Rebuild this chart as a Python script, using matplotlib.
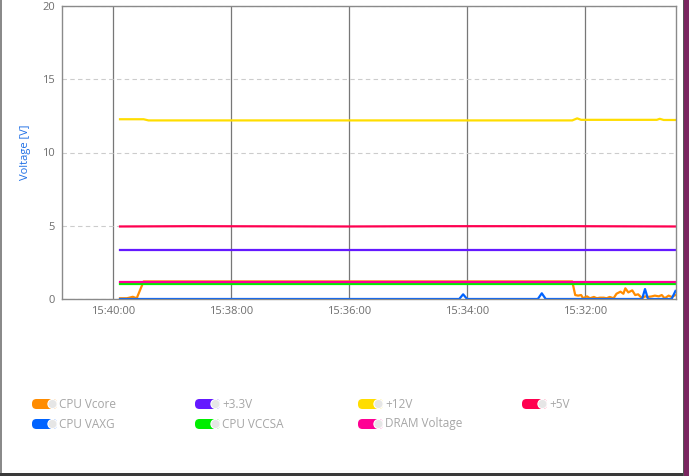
import matplotlib
matplotlib.use("Agg")
import matplotlib.pyplot as plt
import matplotlib.dates as mdates
from matplotlib.patches import FancyBboxPatch, Circle, Rectangle
import pandas as pd

plt.rcParams["font.family"] = ["Open Sans", "DejaVu Sans"]

# sensor readings: (time, volts) per series
vcore_t = ["15:39:53", "15:39:46", "15:39:40", "15:39:36", "15:39:29", "15:36:00",
           "15:32:13", "15:32:10", "15:32:07", "15:32:04", "15:32:02", "15:31:58",
           "15:31:55", "15:31:51", "15:31:48", "15:31:45", "15:31:41", "15:31:38",
           "15:31:35", "15:31:31", "15:31:28", "15:31:24", "15:31:21", "15:31:19",
           "15:31:16", "15:31:12", "15:31:09", "15:31:06", "15:31:02", "15:30:59",
           "15:30:56", "15:30:52", "15:30:49", "15:30:45", "15:30:42", "15:30:39",
           "15:30:35", "15:30:32", "15:30:28"]
vcore_v = [0.05, 0.05, 0.15, 0.05, 1.20, 1.20,
           1.20, 0.27, 0.23, 0.27, 0.05, 0.18,
           0.05, 0.14, 0.05, 0.09, 0.09, 0.05,
           0.14, 0.05, 0.36, 0.50, 0.36, 0.73,
           0.45, 0.59, 0.27, 0.32, 0.05, 0.18,
           0.14, 0.18, 0.23, 0.18, 0.27, 0.05,
           0.23, 0.14, 0.27]

vaxg_t = ["15:39:53", "15:34:08", "15:34:04", "15:34:00", "15:32:48", "15:32:44",
          "15:32:40", "15:31:02", "15:30:59", "15:30:56", "15:30:32", "15:30:28"]
vaxg_v = [0.0, 0.0, 0.32, 0.0, 0.0, 0.39,
          0.0, 0.0, 0.68, 0.0, 0.0, 0.55]

v33_t = ["15:39:53", "15:36:00", "15:30:28"]
v33_v = [3.36, 3.36, 3.36]

vccsa_t = ["15:39:53", "15:36:00", "15:30:28"]
vccsa_v = [1.05, 1.05, 1.05]

v12_t = ["15:39:53", "15:39:29", "15:39:24", "15:36:00", "15:32:13", "15:32:08",
         "15:32:04", "15:30:47", "15:30:44", "15:30:40", "15:30:28"]
v12_v = [12.27, 12.27, 12.19, 12.19, 12.19, 12.33,
         12.23, 12.23, 12.30, 12.22, 12.22]

dram_t = ["15:39:53", "15:36:00", "15:30:28"]
dram_v = [1.19, 1.19, 1.19]

v5_t = ["15:39:53", "15:38:40", "15:37:20", "15:36:00", "15:34:30", "15:32:13",
        "15:30:28"]
v5_v = [4.95, 4.97, 4.96, 4.95, 4.97, 4.97, 4.95]

series = [
    ("CPU Vcore", vcore_t, vcore_v, "#ff8c00"),
    ("CPU VAXG", vaxg_t, vaxg_v, "#0063ff"),
    ("+3.3V", v33_t, v33_v, "#6419ff"),
    ("CPU VCCSA", vccsa_t, vccsa_v, "#00ee00"),
    ("+12V", v12_t, v12_v, "#ffdd00"),
    ("DRAM Voltage", dram_t, dram_v, "#ff0094"),
    ("+5V", v5_t, v5_v, "#ff0050"),
]
legend_order = ["CPU Vcore", "+3.3V", "+12V", "+5V", "CPU VAXG", "CPU VCCSA",
                "DRAM Voltage"]
tick_times = ["15:40:00", "15:38:00", "15:36:00", "15:34:00", "15:32:00"]
y_ticks = [0, 5, 10, 15, 20]


def to_dt(times):
    return pd.to_datetime(["2024-01-01 " + t for t in times])


W, H = 689, 476
fig = plt.figure(figsize=(W / 100, H / 100), dpi=100)
fig.patch.set_facecolor("white")

# background layer in pixel coordinates
bg = fig.add_axes([0, 0, 1, 1])
bg.set_xlim(0, W)
bg.set_ylim(H, 0)
bg.axis("off")
bg.add_patch(Rectangle((0, 0), 1.5, H, color="#8a8a8a", lw=0))
bg.add_patch(Rectangle((683, 0), 6, H, color="#7a2660", lw=0))
bg.add_patch(Rectangle((682.5, 0), 1.2, H, color="#555555", lw=0))
bg.add_patch(Rectangle((0, 473), 683, 3, color="#3a3a3a", lw=0))

ax = fig.add_axes([62 / W, 1 - 299 / H, 613.5 / W, 293 / H])
for k, (name, t, v, c) in enumerate(series):
    ax.plot(to_dt(t), v, color=c, lw=1.6, solid_joinstyle="round", zorder=2 + k)

ax.set_ylim(0, 20)
ax.set_yticks(y_ticks)
ax.set_xlim(pd.Timestamp("2024-01-01 15:40:52"), pd.Timestamp("2024-01-01 15:30:28"))
ax.set_xticks(to_dt(tick_times))
ax.xaxis.set_major_formatter(mdates.DateFormatter("%H:%M:%S"))
ax.tick_params(length=0, labelsize=8, colors="#6e6e6e", pad=5)
ax.xaxis.grid(True, color="#777777", lw=0.9)
ax.yaxis.grid(True, color="#cccccc", lw=0.8, ls=(0, (4, 3)))
ax.set_axisbelow(True)
for s in ax.spines.values():
    s.set_color("#8a8a8a")
    s.set_linewidth(1.0)
    s.set_zorder(20)
ax.set_ylabel("Voltage [V]", color="#1f6fe5", fontsize=8, labelpad=8)

# toggle-style legend
colors = {name: c for name, t, v, c in series}
col_x = [32, 195, 358, 522]
row_y = [404, 424]
for i, name in enumerate(legend_order):
    x0 = col_x[i % 4]
    y0 = row_y[i // 4]
    bg.add_patch(FancyBboxPatch((x0 + 4.5, y0 - 0.5), 16, 1,
                                boxstyle="round,pad=4.5", fc=colors[name],
                                ec="none"))
    bg.add_patch(Circle((x0 + 20.5, y0), 4.6, fc="#e6e6e6", ec="white", lw=0.8))
    bg.text(x0 + 27, y0, name, fontsize=8.5, color="#a6a6a6", va="center",
            ha="left")

fig.savefig("out.png", dpi=100)
